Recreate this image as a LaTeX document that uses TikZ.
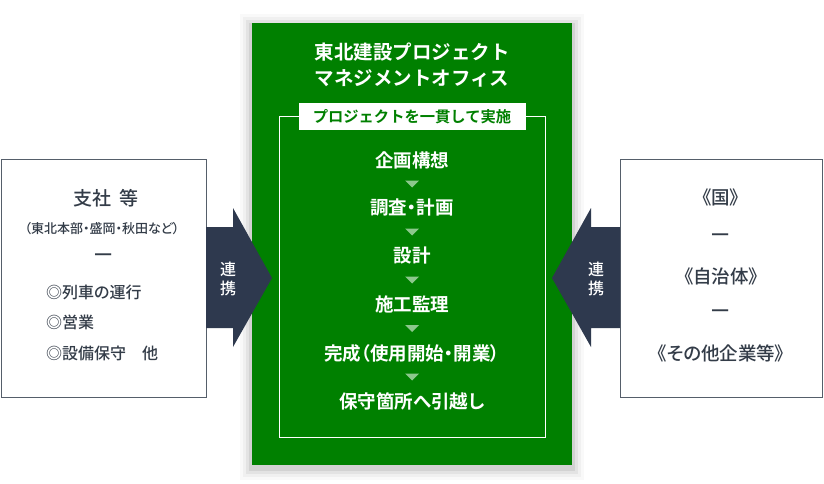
\documentclass[tikz,border=0pt]{standalone}
\usepackage{fontspec}
\setmainfont{Noto Sans CJK JP}[BoldFont={* Bold}]
\newfontfamily\jpp{Noto Sans CJK JP}[BoldFont={* Bold},RawFeature=+palt]
\newfontfamily\jpm{Noto Sans CJK JP Medium}[RawFeature=+palt]
\usetikzlibrary{calc}
\definecolor{grn}{RGB}{0,128,0}
\definecolor{navy}{RGB}{46,57,78}
\definecolor{txt}{RGB}{51,60,72}
\definecolor{edge}{RGB}{85,94,106}
\definecolor{tri}{RGB}{140,200,140}
\begin{document}
\begin{tikzpicture}[x=1pt,y=-1pt,
  sidebox/.style={draw=edge,line width=0.8pt,fill=white},
  arr/.style={fill=navy},
  darktxt/.style={text=txt,inner sep=0pt,font=\jpm\fontsize{18.5}{22}\selectfont},
  listtxt/.style={text=txt,inner sep=0pt,anchor=west,font=\jpm\fontsize{16}{19}\selectfont},
  dashtxt/.style={text=txt,inner sep=0pt,font=\jpp\fontsize{20}{22}\bfseries\selectfont},
  title/.style={text=white,inner sep=0pt,font=\fontsize{19.5}{23}\bfseries\selectfont},
  steptxt/.style={text=white,inner sep=0pt,font=\jpp\fontsize{18.5}{22}\bfseries\selectfont},
  rentxt/.style={text=white,inner sep=0pt,align=center,font=\jpm\fontsize{16}{19}\selectfont},
  tribox/.style={fill=tri}]
\useasboundingbox (0,0) rectangle (824,484);
\fill[white] (0,0) rectangle (824,484);
% side boxes
\draw[sidebox] (1,159) rectangle (206,397);
\draw[sidebox] (620,159) rectangle (822,397);
% shadow of green box
\foreach \d/\o in {12/0.025,9/0.035,6/0.05,3/0.07}{
  \fill[black,opacity=\o] (252-\d,23-\d+3) rectangle (572+\d,465+\d+3);
}
\fill[grn] (252,23) rectangle (572,465);
% arrows
\fill[arr] (206,227) -- (233,227) -- (233,208) -- (272,278) -- (233,347) -- (233,328) -- (206,328) -- cycle;
\fill[arr] (620,227) -- (591,227) -- (591,208) -- (552,278) -- (591,347) -- (591,328) -- (620,328) -- cycle;
\node[rentxt] (rl) at (228,279) {連\\携};
\node[rentxt] (rr) at (596,279) {連\\携};
% title
\node[title] (t1) at (412,52) {東北建設プロジェクト};
\node[title] (t2) at (412,78) {マネジメントオフィス};
% inner frame
\draw[white,line width=0.8pt] (279,116) rectangle (545,437);
\node[fill=white,minimum width=227pt,minimum height=27pt,inner sep=0pt,text=grn,font=\fontsize{15.3}{18}\bfseries\selectfont] (lab) at (412,116.5) {プロジェクトを一貫して実施};
% steps
\node[steptxt] (s1) at (412,160) {企画構想};
\node[steptxt] (s2) at (412,208) {調査・計画};
\node[steptxt] (s3) at (412,256) {設計};
\node[steptxt] (s4) at (412,304) {施工監理};
\node[steptxt] (s5) at (412,353) {完成（使用開始・開業）};
\node[steptxt] (s6) at (412,401) {保守箇所へ引越し};
\foreach \a/\b in {s1/s2,s2/s3,s3/s4,s4/s5,s5/s6}{
  \coordinate (m) at ($(\a)!0.5!(\b)$);
  \fill[tribox] ($(m)+(-7,-3.5)$) -- ($(m)+(7,-3.5)$) -- ($(m)+(0,3.5)$) -- cycle;
}
% left box text
\node[darktxt,font=\jpm\fontsize{19}{22}\selectfont] (l1) at (106,198) {支社\hspace{0.45em}等};
\node[darktxt,font=\jpm\fontsize{13}{15}\selectfont] (l2) at (102,229) {（東北本部・盛岡・秋田など）};
\node[dashtxt] (l3) at (104,257) {—};
\node[listtxt] (l4) at (46,292) {◎列車の運行};
\node[listtxt] (l5) at (46,322) {◎営業};
\node[listtxt] (l6) at (46,353) {◎設備保守\hspace{1em}他};
% right box text
\node[darktxt] (r1) at (721,197) {《国》};
\node[dashtxt] (r2) at (721,237) {—};
\node[darktxt] (r3) at (721,276) {《自治体》};
\node[dashtxt] (r4) at (721,313) {—};
\node[darktxt] (r5) at (721,353) {《その他企業等》};
\end{tikzpicture}
\end{document}
